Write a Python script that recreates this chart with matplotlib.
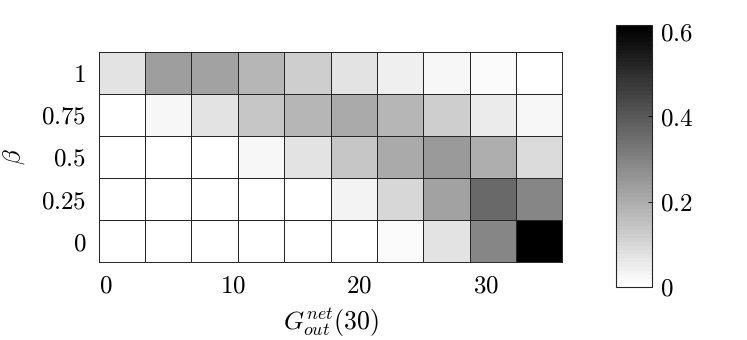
import numpy as np
import matplotlib.pyplot as plt

plt.rcParams['mathtext.fontset'] = 'cm'
plt.rcParams['font.family'] = 'DejaVu Serif'

# beta rows, top to bottom
beta_labels = ['1', '0.75', '0.5', '0.25', '0']
x_ticks = [0, 10, 20, 30]
cbar_ticks = [0, 0.2, 0.4, 0.6]

row_b1 = [0.075, 0.234, 0.229, 0.181, 0.123, 0.070, 0.041, 0.022, 0.012, 0.0]
row_b075 = [0.0, 0.022, 0.075, 0.142, 0.181, 0.205, 0.181, 0.123, 0.051, 0.022]
row_b05 = [0.0, 0.0, 0.0, 0.022, 0.070, 0.142, 0.205, 0.246, 0.195, 0.089]
row_b025 = [0.0, 0.0, 0.0, 0.0, 0.0, 0.031, 0.099, 0.229, 0.359, 0.296]
row_b0 = [0.0, 0.0, 0.0, 0.0, 0.0, 0.0, 0.012, 0.075, 0.296, 0.614]

C = np.array([row_b1, row_b075, row_b05, row_b025, row_b0])
vmax = 0.614

fig = plt.figure(figsize=(7.47, 3.4), dpi=100)
ax = fig.add_axes([0.132, 0.229, 0.621, 0.619])
cax = fig.add_axes([0.8246, 0.156, 0.0482, 0.77])

xe = np.linspace(-0.55, 36.0, C.shape[1] + 1)
ye = np.arange(C.shape[0] + 1) - 0.5
cmap = plt.get_cmap('gray_r', 64)
m = ax.pcolormesh(xe, ye, C, cmap=cmap, vmin=0, vmax=vmax,
                  edgecolor='#262626', linewidth=0.6)
ax.set_xlim(xe[0], xe[-1])
ax.set_ylim(ye[-1], ye[0])
ax.set_xticks(x_ticks)
ax.set_xticklabels(['$%d$' % v for v in x_ticks])
ax.set_yticks(range(len(beta_labels)))
ax.set_yticklabels(['$%s$' % s for s in beta_labels])
ax.tick_params(length=0, labelsize=18, pad=9)
for s in ax.spines.values():
    s.set_color('#262626')
    s.set_linewidth(0.7)
ax.set_xlabel(r'$G^{net}_{out}(30)$', fontsize=18.5, labelpad=6)
ax.set_ylabel(r'$\beta$', fontsize=18, labelpad=10)

cb = fig.colorbar(m, cax=cax)
cb.set_ticks(cbar_ticks)
cb.set_ticklabels(['$0$', '$0.2$', '$0.4$', '$0.6$'])
cb.ax.tick_params(direction='in', length=3, width=0.6, labelsize=18, pad=6)
cb.outline.set_linewidth(0.8)
cb.outline.set_edgecolor('#262626')

plt.savefig('out.png', dpi=100)
